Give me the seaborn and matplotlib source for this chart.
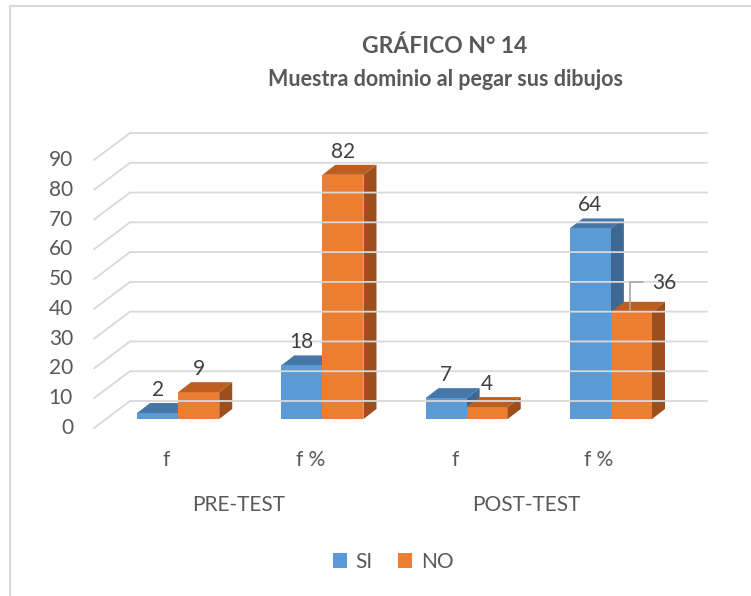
import numpy as np
import pandas as pd
import matplotlib
matplotlib.use("Agg")
import matplotlib.pyplot as plt
import seaborn as sns
from matplotlib.patches import Polygon, Patch
from matplotlib.lines import Line2D
from matplotlib.transforms import offset_copy

# ---- data ----
cat_ids = ["PRE_f", "PRE_fp", "POST_f", "POST_fp"]
cat_labels = ["f", "f %", "f", "f %"]
groups = ["PRE-TEST", "POST-TEST"]
series = ["SI", "NO"]
si_vals = [2, 18, 7, 64]
no_vals = [9, 82, 4, 36]
yticks = [0, 10, 20, 30, 40, 50, 60, 70, 80, 90]

title1 = "GRÁFICO N° 14"
title2 = "Muestra dominio al pegar sus dibujos"

colors = {"SI": "#5B9BD5", "NO": "#ED7D31"}
top_colors = {"SI": "#4677A8", "NO": "#BC5E1F"}
side_colors = {"SI": "#3D6893", "NO": "#9C4E1B"}
text_color = "#595959"

df = pd.DataFrame({
    "cat": cat_ids * 2,
    "serie": ["SI"] * 4 + ["NO"] * 4,
    "val": si_vals + no_vals,
})

sns.set_theme(style="white")
plt.rcParams["font.family"] = ["Lato", "DejaVu Sans"]

W, H = 751, 596
fig = plt.figure(figsize=(W / 100, H / 100), dpi=100)

# axes = bar front plane
ax_l, ax_r = 106, 683
ax_b, ax_t = 419, 151
ax = fig.add_axes([ax_l / W, 1 - ax_b / H, (ax_r - ax_l) / W, (ax_b - ax_t) / H])

sns.barplot(data=df, x="cat", y="val", hue="serie", order=cat_ids,
            hue_order=series, palette=colors, width=0.57, linewidth=0,
            saturation=1, ax=ax, legend=False, zorder=2)
ax.set_xlim(-0.5, 3.5)
ax.set_ylim(0, 90)
for s in ax.spines.values():
    s.set_visible(False)
ax.set_xticks([])
ax.set_yticks([])
ax.set_xlabel("")
ax.set_ylabel("")
ax.patch.set_alpha(0)

fig.canvas.draw()

# depth offsets (pixels)
FX, FY = -12, -9     # front floor plane relative to bar plane
BX, BY = 24, 18      # back wall relative to bar plane
DX, DY = 13, 10      # bar depth

def disp(x, y):
    return ax.transData.transform((x, y))

# gridlines in perspective
x_left = ax.get_xlim()[0]
right_back_px = 707
for v in yticks:
    px, py = disp(x_left, v)
    p0 = (px + FX, py + FY)
    p1 = (px + BX, py + BY)
    p2 = (right_back_px, py + BY)
    fig.add_artist(Line2D([p0[0], p1[0], p2[0]], [p0[1], p1[1], p2[1]],
                          transform=None, color="#D9D9D9", lw=1.3, zorder=0.5))
    ax.text(0, v, str(v), transform=offset_copy(ax.get_yaxis_transform(), fig=fig,
            x=-33, y=FY, units="dots"), ha="right", va="center",
            fontsize=15, color=text_color)

# 3D faces for bars
bars = list(ax.patches)
for i, p in enumerate(bars):
    serie = series[i // 4]
    x0, y0 = p.get_x(), p.get_y()
    x1, y1 = x0 + p.get_width(), y0 + p.get_height()
    (a0, b0) = disp(x0, y0)
    (a1, b1) = disp(x1, y1)
    z = 1.5 if serie == "SI" else 2.5
    top = Polygon([(a0, b1), (a1, b1), (a1 + DX, b1 + DY), (a0 + DX, b1 + DY)],
                  closed=True, transform=None, facecolor=top_colors[serie],
                  edgecolor="none", zorder=z)
    side = Polygon([(a1, b0), (a1, b1), (a1 + DX, b1 + DY), (a1 + DX, b0 + DY)],
                   closed=True, transform=None, facecolor=side_colors[serie],
                   edgecolor="none", zorder=z)
    ax.add_artist(side)
    ax.add_artist(top)
    # value labels
    val = p.get_height()
    cx = (a0 + a1) / 2
    if serie == "NO" and i == 7:
        fig.add_artist(Line2D([cx - 1, cx - 1, cx + 12], [b1 + 2, b1 + 30, b1 + 30],
                              transform=None, color="#A6A6A6", lw=1.2, zorder=5))
        fig.text(cx + 33, b1 + 29, f"{val:.0f}", transform=None, ha="center",
                 va="center", fontsize=15, color="#404040")
    else:
        fig.text(cx, b1 + 23, f"{val:.0f}", transform=None, ha="center",
                 va="center", fontsize=15, color="#404040")

# category labels (front plane)
for i, lab in enumerate(cat_labels):
    ax.text(i, 0, lab, transform=offset_copy(ax.get_xaxis_transform(), fig=fig,
            x=FX, y=-41, units="dots"), ha="center", va="center",
            fontsize=15, color=text_color)
for g, lab in enumerate(groups):
    ax.text(0.5 + 2 * g, 0, lab, transform=offset_copy(ax.get_xaxis_transform(), fig=fig,
            x=FX, y=-86, units="dots"), ha="center", va="center",
            fontsize=15, color=text_color)

# title
fig.text(445 / W, 1 - 46 / H, title1, ha="center", va="center",
         fontsize=16.5, fontweight="bold", color=text_color)
fig.text(445 / W, 1 - 80 / H, title2, ha="center",
         va="center", fontsize=15.5, fontweight="bold", color=text_color)

# legend
handles = [Patch(facecolor=colors[s], edgecolor="none", label=s) for s in series]
fig.legend(handles=handles, loc="center", bbox_to_anchor=(393 / W, 1 - 562 / H),
           ncol=2, frameon=False, fontsize=15, handlelength=0.7, handleheight=0.7,
           handletextpad=0.4, columnspacing=1.2, labelcolor=text_color)

# chart border (left & top)
fig.add_artist(Line2D([10, 10, W], [0, H - 6, H - 6], transform=None,
                      color="#D9D9D9", lw=1.5))

fig.savefig("out.png", dpi=100)
